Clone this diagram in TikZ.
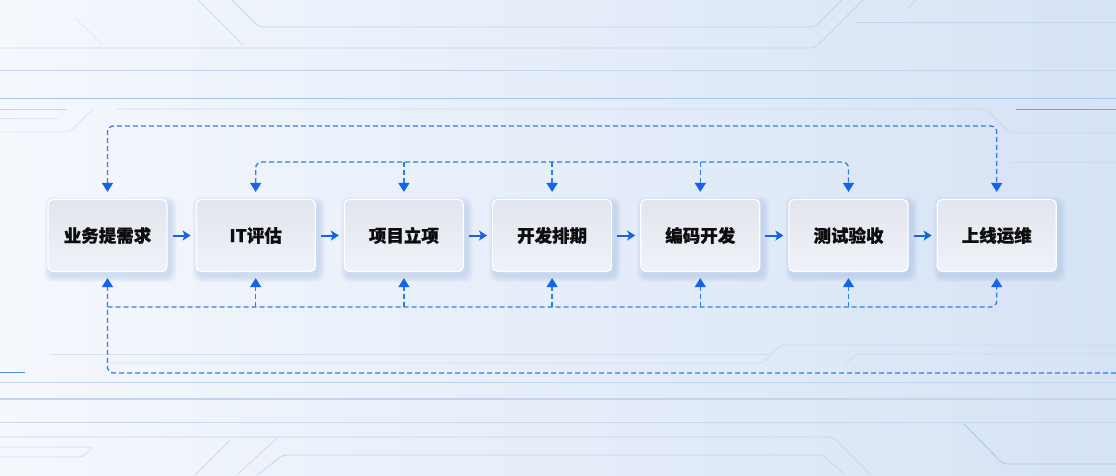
\documentclass[tikz,border=0pt]{standalone}
\usepackage{fontspec}
\setmainfont{Noto Sans CJK SC}[BoldFeatures={FakeBold=0.8}]
\usepackage{tikz}
\usetikzlibrary{arrows.meta,positioning}
\definecolor{bgleft}{HTML}{F5F8FD}
\definecolor{bgright}{HTML}{D6E3F5}
\definecolor{decoline}{HTML}{C4D4EB}
\definecolor{decoblue}{HTML}{4A8DE0}
\definecolor{boxtop}{HTML}{E2E5ED}
\definecolor{boxbot}{HTML}{EFF2F8}
\definecolor{shadowblue}{HTML}{7FA3DD}
\definecolor{flowblue}{HTML}{1463E8}
\definecolor{dashblue}{HTML}{2D7EE8}
\definecolor{inkblack}{HTML}{0D0D0D}
\pgfdeclarelayer{bg}
\pgfdeclarelayer{shade}
\pgfsetlayers{bg,shade,main}
\tikzset{fbtip/.tip={Triangle[length=9pt,width=11pt,color=flowblue]}}

\begin{document}
\begin{tikzpicture}[x=1pt, y=-1pt,
  stage/.style={rounded corners=5pt, draw=white, line width=1.2pt,
                top color=boxtop, bottom color=boxbot,
                minimum width=119pt, minimum height=72pt, text=inkblack,
                font=\fontsize{17.5}{20}\selectfont\bfseries},
  flow/.style={-{Stealth[length=8pt,width=10pt,inset=2pt]}, line width=2pt,
               color=flowblue, shorten <=5pt, shorten >=5pt},
  fb/.style={dashblue, line width=1.3pt, dash pattern=on 5pt off 3pt,
             rounded corners=6pt},
  deco/.style={decoline, line width=0.8pt, rounded corners=4pt},
  node distance=28pt
]
  \useasboundingbox (0,0) rectangle (1116,475);

  % background
  \begin{pgfonlayer}{bg}
    \shade[left color=bgleft, right color=bgright] (0,0) rectangle (1116,475);
    \draw[deco] (0,48) -- (815,48) -- (863,0);
    \draw[deco] (232,0) -- (259,27) -- (815,27) -- (842,0);
    \draw[deco, opacity=.7] (198,0) -- (243,45);
    \draw[deco, opacity=.4] (75,18) -- (103,45);
    \draw[deco] (856,22) -- (1116,22);
    \draw[deco] (908,8) -- (916,0);
    \draw[deco] (0,70) -- (1116,70);
    \draw[decoblue!50, line width=.9pt] (0,98) -- (1116,98);
    \draw[decoblue!80, line width=1pt] (1016,109) -- (1116,109);
    \draw[deco] (0,109) -- (67,109);
    \draw[deco, opacity=.5] (0,118) -- (58,118);
    \draw[deco, opacity=.5] (93,109) -- (70,132) -- (0,132);
    \draw[deco, opacity=.8] (117,109) -- (986,109) -- (1010,133) -- (1116,133);
    \draw[deco, opacity=.6] (1012,162) -- (1116,162);
    \draw[deco, opacity=.6] (50,354) -- (770,354);
    \draw[deco, opacity=.6] (110,363) -- (763,363) -- (781,345) -- (1116,345);
    \draw[deco, opacity=.6] (846,364) -- (856,354) -- (1116,354);
    \draw[decoblue, line width=1pt] (0,372) -- (25,372);
    \draw[deco] (0,382) -- (1116,382);
    \draw[deco, line width=1.3pt] (0,399) -- (1116,399);
    \draw[deco, opacity=.8] (0,422) -- (1116,422);
    \draw[deco] (0,437) -- (833,437) -- (871,475);
    \draw[deco, opacity=.7] (0,447) -- (93,447) -- (82,457) -- (0,457);
    \draw[deco, opacity=.8] (230,440) -- (195,475);
    \draw[deco, opacity=.8] (277,438) -- (237,475);
    \draw[deco] (257,475) -- (283,455) -- (823,455) -- (845,475);
    \draw[deco, decoblue!50] (964,424) -- (1003,464) -- (1116,464);
  \end{pgfonlayer}

  \node[stage] (req) at (107.5,235.5) {业务提需求};
  \node[stage, right=of req] (eval) {IT评估};
  \node[stage, right=of eval] (proj) {项目立项};
  \node[stage, right=of proj] (sched) {开发排期};
  \node[stage, right=of sched] (code) {编码开发};
  \node[stage, right=of code] (test) {测试验收};
  \node[stage, right=of test] (ops) {上线运维};

  % soft shadows
  \begin{pgfonlayer}{shade}
    \foreach \n in {req,eval,proj,sched,code,test,ops}
      \foreach \k in {1,...,6}
        \fill[shadowblue, opacity=.05, rounded corners=8pt]
          ([xshift=3pt-\k pt, yshift=-4pt-\k pt]\n.south west) rectangle
          ([xshift=3pt+\k pt, yshift=-4pt+\k pt]\n.north east);
  \end{pgfonlayer}

  \draw[flow] (req) -- (eval);
  \draw[flow] (eval) -- (proj);
  \draw[flow] (proj) -- (sched);
  \draw[flow] (sched) -- (code);
  \draw[flow] (code) -- (test);
  \draw[flow] (test) -- (ops);

  \coordinate (toptop) at (0,126);
  \coordinate (topmid) at (0,162);
  \coordinate (botmid) at (0,307);
  \coordinate (botloop) at (1116,373);

  \draw[fb, fbtip-fbtip, shorten <=7pt, shorten >=7pt]
    (req.north) -- (req.north |- toptop) -- (ops.north |- toptop) -- (ops.north);
  \draw[fb, fbtip-fbtip, shorten <=7pt, shorten >=7pt]
    (eval.north) -- (eval.north |- topmid) -- (test.north |- topmid) -- (test.north);
  \foreach \n in {proj,sched,code}
    \draw[fb, -fbtip, shorten >=7pt] (\n.north |- topmid) -- (\n.north);

  \draw[fb, -fbtip, shorten >=6pt]
    (req.south |- botmid) -- (ops.south |- botmid) -- (ops.south);
  \foreach \n in {eval,proj,sched,code,test}
    \draw[fb, -fbtip, shorten >=6pt] (\n.south |- botmid) -- (\n.south);
  \draw[fb, -fbtip, shorten >=6pt]
    (botloop) -- (req.south |- botloop) -- (req.south);
\end{tikzpicture}
\end{document}
